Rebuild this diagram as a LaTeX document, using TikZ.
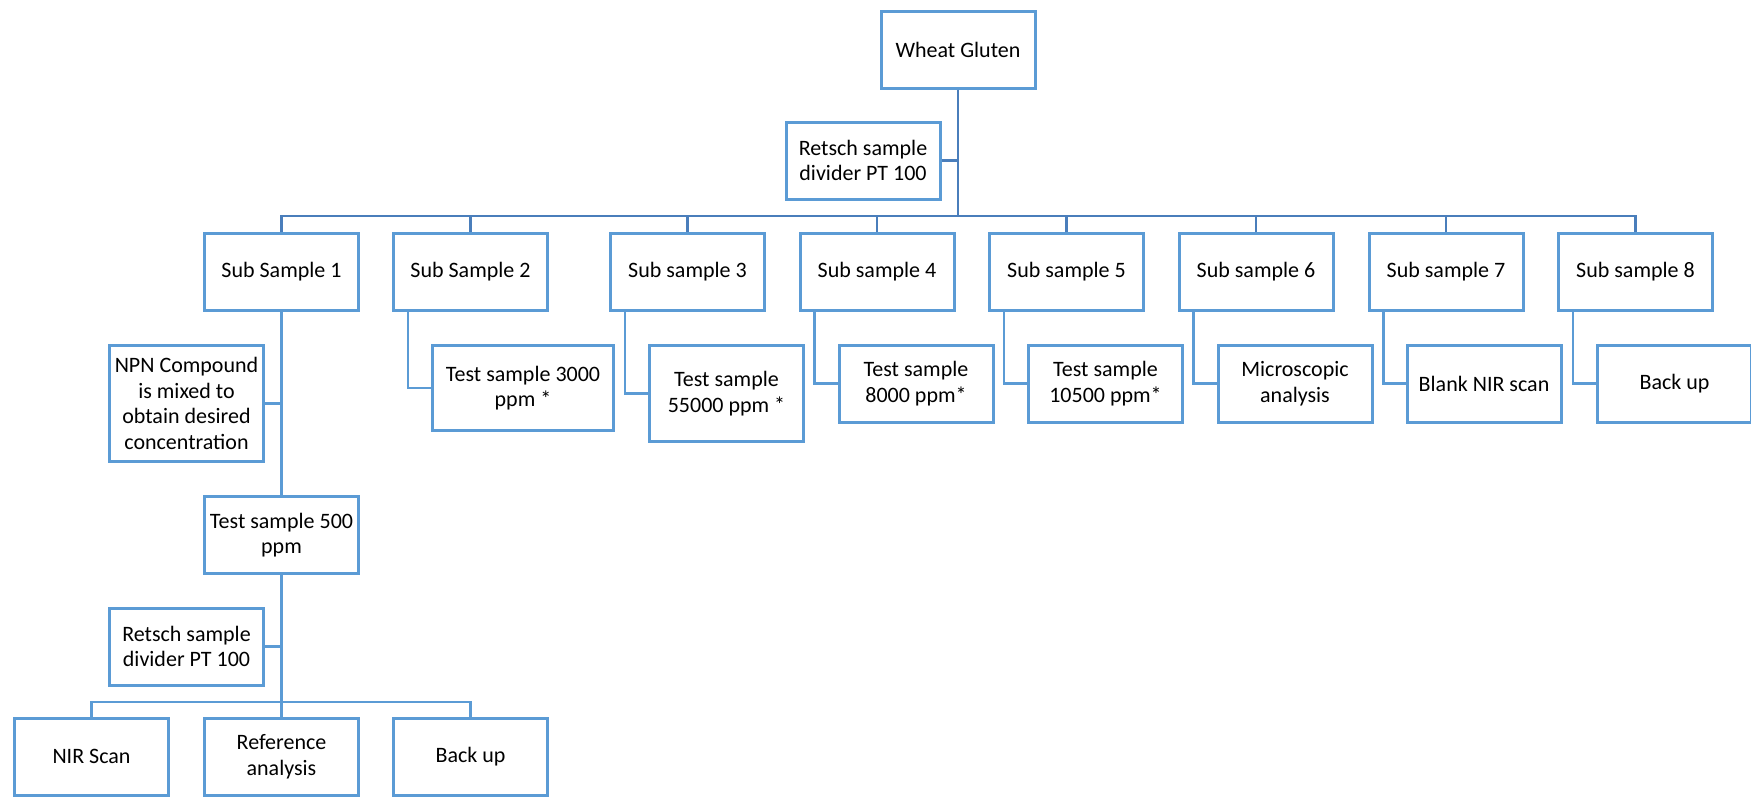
\documentclass[tikz,border=0pt]{standalone}
\usepackage{fontspec}
\setmainfont{Carlito}
\definecolor{boxblue}{HTML}{5B9BD5}
\definecolor{linkblue}{HTML}{4A7EBB}
\begin{document}
\begin{tikzpicture}[x=1pt,y=-1pt,
  box/.style={draw=boxblue, line width=3pt, fill=white, inner sep=0pt, align=center,
    minimum width=154pt, minimum height=77pt,
    font=\fontsize{22}{25.5}\selectfont},
  link/.style={draw=linkblue, line width=2.2pt},
  sublink/.style={draw=boxblue, line width=2.2pt}]
\useasboundingbox (0,0) rectangle (1751,796);
% top
\node[box] (wg) at (958,49.5) {Wheat Gluten};
\node[box] (r1) at (863,160.5) {Retsch sample\\divider PT 100};
% sub samples
\node[box] (ss1) at (281.5,272) {Sub Sample 1};
\node[box] (ss2) at (470.5,272) {Sub Sample 2};
\node[box] (ss3) at (687.5,272) {Sub sample 3};
\node[box] (ss4) at (877,272) {Sub sample 4};
\node[box] (ss5) at (1066.5,272) {Sub sample 5};
\node[box] (ss6) at (1256,272) {Sub sample 6};
\node[box] (ss7) at (1446,272) {Sub sample 7};
\node[box] (ss8) at (1635.5,272) {Sub sample 8};
% children
\node[box, minimum width=181pt, minimum height=85pt] (t3000) at (523,388) {Test sample 3000\\ppm *};
\node[box, minimum height=96pt] (t55000) at (726.5,393.5) {Test sample\\55000 ppm *};
\node[box] (t8000) at (916,383.5) {Test sample\\8000 ppm*};
\node[box] (t10500) at (1105.5,383.5) {Test sample\\10500 ppm*};
\node[box] (micro) at (1295,383.5) {Microscopic\\analysis};
\node[box] (blank) at (1484,383.5) {Blank NIR scan};
\node[box] (bu8) at (1674.5,383.5) {Back up};
% sub sample 1 chain
\node[box, minimum height=116pt] (npn) at (186.5,403.5) {NPN Compound\\is mixed to\\obtain desired\\concentration};
\node[box] (t500) at (281.5,535) {Test sample 500\\ppm};
\node[box] (r2) at (186.5,646.5) {Retsch sample\\divider PT 100};
\node[box] (nir) at (91.5,756.5) {NIR Scan};
\node[box] (ref) at (281.5,756.5) {Reference\\analysis};
\node[box] (bu1) at (470.5,756.5) {Back up};
% coordinates for buses
\coordinate (bus) at (0,216);
\coordinate (bus2) at (0,702);
% top links
\begin{scope}[on background layer/.try]
\end{scope}
\draw[link] (wg.south) -- (wg.south |- bus);
\draw[link] (r1.east) -- (r1.east -| wg.south);
\draw[link] (ss1.north) -- (ss1.north |- bus) -- (ss8.north |- bus) -- (ss8.north);
\foreach \n in {ss2,ss3,ss4,ss5,ss6,ss7}{
  \draw[link] (\n.north) -- (\n.north |- bus);
}
% sub sample children
\draw[sublink] ([xshift=16pt]ss2.south west) |- (t3000.west);
\draw[sublink] ([xshift=16pt]ss3.south west) |- (t55000.west);
\draw[sublink] ([xshift=16pt]ss4.south west) |- (t8000.west);
\draw[sublink] ([xshift=16pt]ss5.south west) |- (t10500.west);
\draw[sublink] ([xshift=16pt]ss6.south west) |- (micro.west);
\draw[sublink] ([xshift=16pt]ss7.south west) |- (blank.west);
\draw[sublink] ([xshift=16pt]ss8.south west) |- (bu8.west);
% sub sample 1 chain
\draw[sublink] (ss1.south) -- (t500.north);
\draw[sublink] (npn.east) -- (npn.east -| ss1.south);
\draw[sublink] (t500.south) -- (ref.north);
\draw[sublink] (r2.east) -- (r2.east -| t500.south);
\draw[sublink] (nir.north) -- (nir.north |- bus2) -- (bu1.north |- bus2) -- (bu1.north);
\end{tikzpicture}
\end{document}
